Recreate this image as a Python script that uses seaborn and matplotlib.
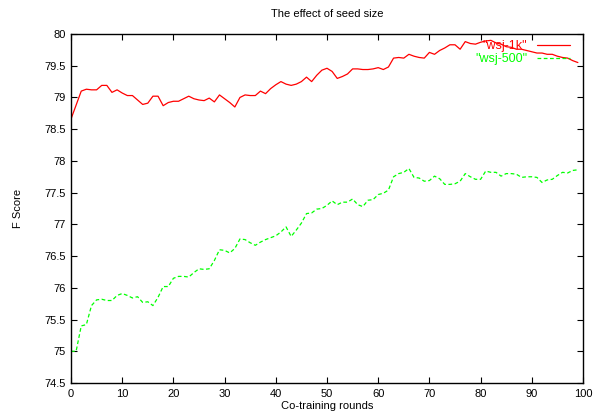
import seaborn as sns
import matplotlib.pyplot as plt
import pandas as pd

rounds = list(range(100))

wsj_1k = [78.66, 78.88, 79.10, 79.13, 79.12, 79.12, 79.19, 79.19, 79.08, 79.12,
          79.07, 79.03, 79.03, 78.96, 78.89, 78.91, 79.02, 79.02, 78.87, 78.92,
          78.94, 78.94, 78.98, 79.02, 78.98, 78.96, 78.95, 78.99, 78.93, 79.04,
          78.98, 78.92, 78.85, 79.00, 79.04, 79.03, 79.03, 79.10, 79.06, 79.14,
          79.20, 79.25, 79.21, 79.19, 79.21, 79.25, 79.32, 79.25, 79.35, 79.43,
          79.46, 79.41, 79.30, 79.33, 79.37, 79.45, 79.45, 79.44, 79.44, 79.45,
          79.47, 79.44, 79.48, 79.62, 79.63, 79.62, 79.68, 79.65, 79.63, 79.62,
          79.71, 79.68, 79.74, 79.78, 79.83, 79.83, 79.76, 79.88, 79.85, 79.84,
          79.87, 79.89, 79.90, 79.86, 79.84, 79.80, 79.79, 79.76, 79.76, 79.74,
          79.72, 79.70, 79.70, 79.68, 79.68, 79.65, 79.63, 79.62, 79.58, 79.55]

wsj_500 = [75.00, 75.00, 75.40, 75.42, 75.72, 75.81, 75.82, 75.80, 75.80, 75.88,
           75.91, 75.88, 75.84, 75.86, 75.77, 75.78, 75.72, 75.85, 76.02, 76.02,
           76.15, 76.18, 76.18, 76.17, 76.24, 76.30, 76.29, 76.30, 76.43, 76.60,
           76.59, 76.55, 76.62, 76.77, 76.76, 76.71, 76.67, 76.72, 76.76, 76.79,
           76.82, 76.88, 76.96, 76.81, 76.91, 77.02, 77.17, 77.18, 77.24, 77.25,
           77.30, 77.37, 77.31, 77.35, 77.35, 77.40, 77.31, 77.28, 77.38, 77.39,
           77.47, 77.49, 77.54, 77.75, 77.80, 77.82, 77.88, 77.74, 77.73, 77.68,
           77.69, 77.76, 77.72, 77.63, 77.63, 77.64, 77.68, 77.80, 77.75, 77.71,
           77.71, 77.84, 77.82, 77.82, 77.76, 77.80, 77.80, 77.79, 77.74, 77.75,
           77.75, 77.74, 77.66, 77.70, 77.71, 77.77, 77.82, 77.81, 77.85, 77.86]

series_names = ['"wsj-1k"', '"wsj-500"']

df = pd.DataFrame({
    "round": rounds * 2,
    "score": wsj_1k + wsj_500,
    "series": [series_names[0]] * 100 + [series_names[1]] * 100,
})

sns.set_style("ticks")
plt.rcParams["font.family"] = ["Liberation Sans", "DejaVu Sans"]
plt.rcParams["font.size"] = 8
plt.rcParams["text.color"] = "black"
plt.rcParams["axes.labelcolor"] = "black"
plt.rcParams["axes.edgecolor"] = "black"
plt.rcParams["xtick.color"] = "black"
plt.rcParams["ytick.color"] = "black"

fig = plt.figure(figsize=(5.95, 4.18), dpi=100)
ax = fig.add_axes([71 / 595, 1 - 383 / 418, 512 / 595, 349 / 418])

sns.lineplot(data=df, x="round", y="score", hue="series", style="series",
             palette=["#ff0000", "#00ff00"], dashes=[(None, None), (3, 2)],
             linewidth=0.9, ax=ax)

ax.set_xlim(0, 100)
ax.set_ylim(74.5, 80)
ax.set_xticks(range(0, 101, 10))
ax.set_yticks([74.5 + 0.5 * i for i in range(12)])
ax.set_yticklabels([f"{74.5 + 0.5 * i:g}" for i in range(12)])
ax.tick_params(direction="in", top=True, right=True, length=4, width=0.8,
               labelsize=8, pad=4)
for s in ax.spines.values():
    s.set_linewidth(1.0)
    s.set_visible(True)

ax.set_title("The effect of seed size", fontsize=8, pad=12)
ax.set_xlabel("Co-training rounds", fontsize=8, labelpad=2)
ax.set_ylabel("F Score", fontsize=8, labelpad=15)

leg = ax.legend(loc="upper right", frameon=False, markerfirst=False,
                fontsize=9, handlelength=2.6, borderaxespad=0.1,
                labelspacing=0.05, bbox_to_anchor=(0.986, 1.0))
for t, c in zip(leg.get_texts(), ["#ff0000", "#00ff00"]):
    t.set_color(c)

fig.savefig("out.png", dpi=100)
